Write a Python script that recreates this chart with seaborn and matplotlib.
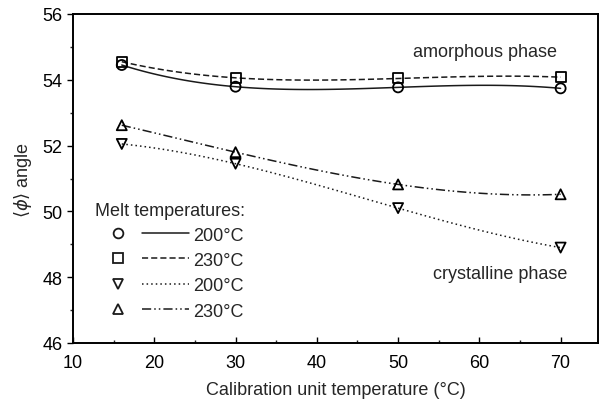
import numpy as np
import pandas as pd
import matplotlib
matplotlib.use("Agg")
import matplotlib.pyplot as plt
import seaborn as sns
from matplotlib.lines import Line2D
from matplotlib.legend_handler import HandlerTuple
from matplotlib.ticker import MultipleLocator

# ---- data ----
x_temp = [16, 30, 50, 70]
amorph_200 = [54.45, 53.79, 53.77, 53.74]
amorph_230 = [54.55, 54.06, 54.04, 54.08]
cryst_200 = [52.05, 51.45, 50.10, 48.90]
cryst_230 = [52.62, 51.80, 50.82, 50.52]
series_labels = ["200°C", "230°C", "200°C", "230°C"]

sns.set_theme(style="ticks")
plt.rcParams["font.family"] = ["Liberation Sans", "DejaVu Sans"]
plt.rcParams["mathtext.fontset"] = "dejavusans"

fig, ax = plt.subplots(figsize=(6, 4.02), dpi=100)
fig.subplots_adjust(left=73/600, right=598/600, top=1-15/402, bottom=1-344/402)

styles = [("o", "-"), ("s", (0, (4, 2))), ("v", (0, (1, 2))), ("^", (0, (6, 2, 1, 2, 1, 2)))]
series = [amorph_200, amorph_230, cryst_200, cryst_230]

for vals, (m, ls) in zip(series, styles):
    sns.regplot(x=np.array(x_temp, float), y=np.array(vals), order=3, ci=None, scatter=False,
                line_kws=dict(color="k", lw=1.1, ls=ls), ax=ax)
    sns.scatterplot(x=x_temp, y=vals, marker=m, s=52, color="none", edgecolor="black",
                    linewidth=1.3, ax=ax, zorder=5)

ax.set_xlim(10, 74.6)
ax.set_ylim(46, 56)
ax.xaxis.set_major_locator(MultipleLocator(10))
ax.xaxis.set_minor_locator(MultipleLocator(5))
ax.yaxis.set_major_locator(MultipleLocator(2))
ax.yaxis.set_minor_locator(MultipleLocator(1))
ax.tick_params(which="major", length=4, width=1, labelsize=13, colors="black")
ax.tick_params(which="minor", length=2, width=1)
ax.tick_params(axis="x", which="both", direction="in")
ax.tick_params(axis="x", which="major", pad=8)
for sp in ax.spines.values():
    sp.set_linewidth(1.4)
    sp.set_color("black")

ax.set_xlabel("Calibration unit temperature (°C)", fontsize=13, labelpad=7)
ax.set_ylabel(r"$\langle\phi\rangle$ angle", fontsize=13, labelpad=6)

ax.text(51.8, 54.85, "amorphous phase", fontsize=13, va="center", ha="left")
ax.text(54.3, 48.12, "crystalline phase", fontsize=13, va="center", ha="left")

handles = []
for m, ls in styles:
    handles.append((Line2D([], [], marker=m, ls="none", mfc="none", mec="k", ms=7, mew=1.3),
                    Line2D([], [], color="k", ls=ls, lw=1.1)))
leg = ax.legend(handles, series_labels, handler_map={tuple: HandlerTuple(ndivide=None, pad=0)},
                title="Melt temperatures:", alignment="left", frameon=False, loc="upper left",
                bbox_to_anchor=(0.028, 0.452), handlelength=5.2, handletextpad=0.25,
                handleheight=0.9, labelspacing=0.42, borderaxespad=0,
                fontsize=13, title_fontsize=13)

fig.savefig("out.png", dpi=100)
